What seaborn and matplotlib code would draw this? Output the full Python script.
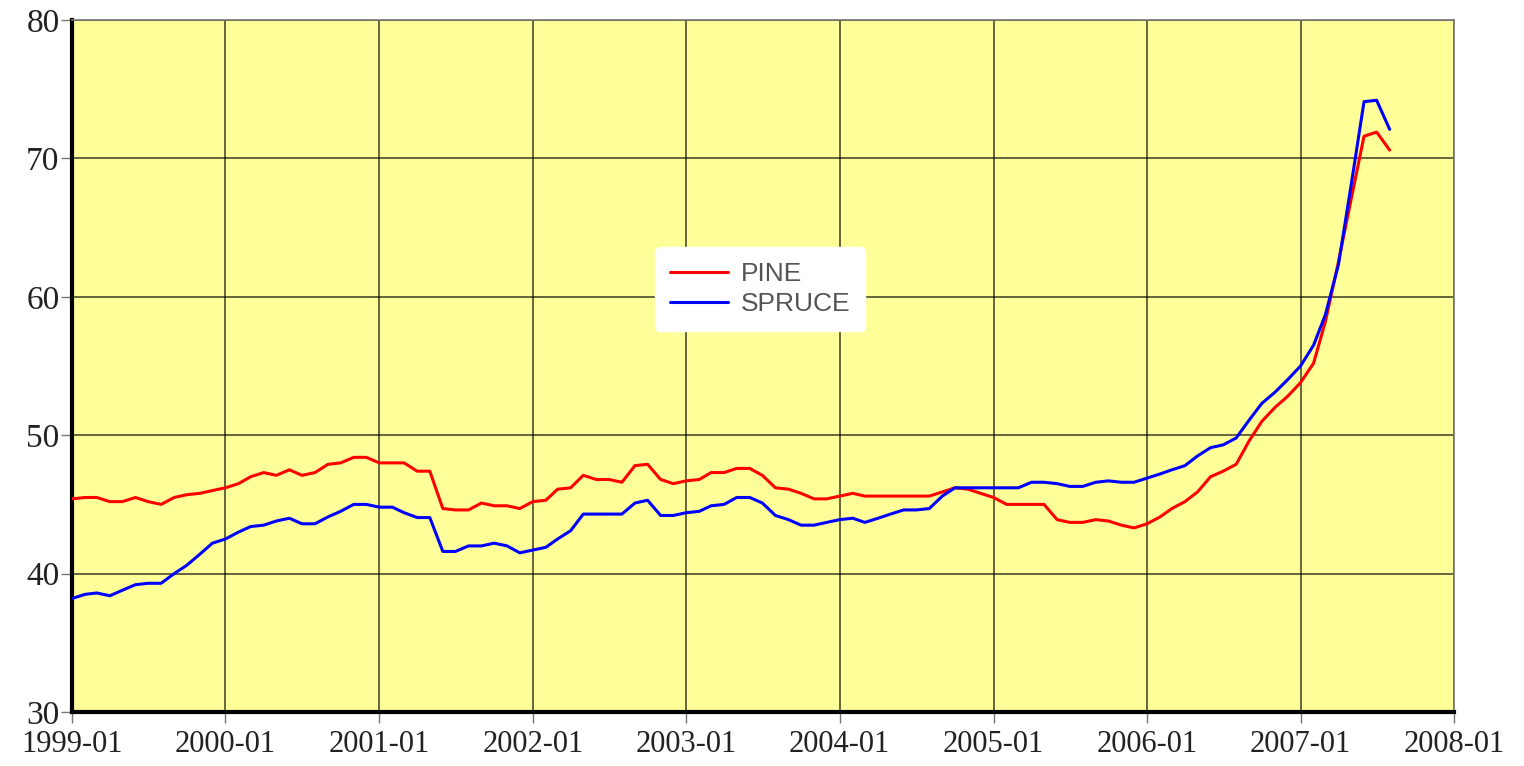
import matplotlib
matplotlib.use("Agg")
import matplotlib.pyplot as plt
import matplotlib.dates as mdates
import pandas as pd
import numpy as np
import seaborn as sns

# monthly prices, 1999-01 .. 2007-08
pine = [45.4, 45.5, 45.5, 45.2, 45.2, 45.5, 45.2, 45.0, 45.5, 45.7, 45.8, 46.0,
        46.2, 46.5, 47.0, 47.3, 47.1, 47.5, 47.1, 47.3, 47.9, 48.0, 48.4, 48.4,
        48.0, 48.0, 48.0, 47.4, 47.4, 44.7, 44.6, 44.6, 45.1, 44.9, 44.9, 44.7,
        45.2, 45.3, 46.1, 46.2, 47.1, 46.8, 46.8, 46.6, 47.8, 47.9, 46.8, 46.5,
        46.7, 46.8, 47.3, 47.3, 47.6, 47.6, 47.1, 46.2, 46.1, 45.8, 45.4, 45.4,
        45.6, 45.8, 45.6, 45.6, 45.6, 45.6, 45.6, 45.6, 45.9, 46.2, 46.1, 45.8,
        45.5, 45.0, 45.0, 45.0, 45.0, 43.9, 43.7, 43.7, 43.9, 43.8, 43.5, 43.3,
        43.6, 44.1, 44.7, 45.2, 45.9, 47.0, 47.4, 47.9, 49.6, 51.0, 52.0, 52.8,
        53.8, 55.2, 58.2, 62.5, 67.0, 71.6, 71.9, 70.6]

spruce = [38.2, 38.5, 38.6, 38.4, 38.8, 39.2, 39.3, 39.3, 40.0, 40.6, 41.4, 42.2,
          42.5, 43.0, 43.4, 43.5, 43.8, 44.0, 43.6, 43.6, 44.1, 44.5, 45.0, 45.0,
          44.8, 44.8, 44.4, 44.05, 44.05, 41.6, 41.6, 42.0, 42.0, 42.2, 42.0, 41.5,
          41.7, 41.9, 42.5, 43.1, 44.3, 44.3, 44.3, 44.3, 45.1, 45.3, 44.2, 44.2,
          44.4, 44.5, 44.9, 45.0, 45.5, 45.5, 45.1, 44.2, 43.9, 43.5, 43.5, 43.7,
          43.9, 44.0, 43.7, 44.0, 44.3, 44.6, 44.6, 44.7, 45.6, 46.2, 46.2, 46.2,
          46.2, 46.2, 46.2, 46.6, 46.6, 46.5, 46.3, 46.3, 46.6, 46.7, 46.6, 46.6,
          46.9, 47.2, 47.5, 47.8, 48.5, 49.1, 49.3, 49.8, 51.1, 52.3, 53.1, 54.0,
          55.0, 56.5, 58.7, 62.3, 68.0, 74.1, 74.2, 72.1]

dates = pd.date_range("1999-01-01", periods=len(pine), freq="MS")
y_ticks = [30, 40, 50, 60, 70, 80]

df = pd.DataFrame({"date": np.concatenate([dates, dates]),
                   "price": pine + spruce,
                   "species": ["PINE"] * len(pine) + ["SPRUCE"] * len(spruce)})

sns.set_style("white")
plt.rcParams["font.family"] = ["Liberation Serif", "DejaVu Serif"]

fig = plt.figure(figsize=(15.24, 7.66), dpi=100)
ax = fig.add_axes([72 / 1524, 1 - 712 / 766, (1454 - 72) / 1524, (712 - 20) / 766])
ax.set_facecolor("#ffff99")

sns.lineplot(data=df, x="date", y="price", hue="species",
             palette={"PINE": "#ff0000", "SPRUCE": "#0000ff"},
             linewidth=2.2, ax=ax, zorder=3)

ax.set_xlim(pd.Timestamp("1999-01-01"), pd.Timestamp("2008-01-01"))
ax.set_ylim(30, 80)
ax.set_yticks(y_ticks)
ax.xaxis.set_major_locator(mdates.YearLocator())
ax.xaxis.set_major_formatter(mdates.DateFormatter("%Y-%m"))
ax.grid(True, color="#000000", alpha=0.65, linewidth=1.3, zorder=1)
ax.set_axisbelow(True)
ax.set_xlabel("")
ax.set_ylabel("")

for side in ["left", "bottom"]:
    ax.spines[side].set_color("black")
    ax.spines[side].set_linewidth(3)
for side in ["top", "right"]:
    ax.spines[side].set_color("#777777")
    ax.spines[side].set_linewidth(1.2)

ax.tick_params(axis="both", which="major", length=8, width=1,
               color="#777777", direction="out", left=True, bottom=True,
               labelcolor="#222222")
ax.tick_params(axis="x", labelsize=22, pad=5)
ax.tick_params(axis="y", labelsize=24, pad=1)

leg = ax.legend(loc="center", bbox_to_anchor=(0.498, 0.611), frameon=True,
                fancybox=True, framealpha=1, edgecolor="white",
                prop={"family": "Liberation Sans", "size": 19},
                handlelength=2.2, handletextpad=0.5, borderpad=0.55,
                labelspacing=0.25)
for t in leg.get_texts():
    t.set_color("#555555")

fig.savefig("out.png", dpi=100)
